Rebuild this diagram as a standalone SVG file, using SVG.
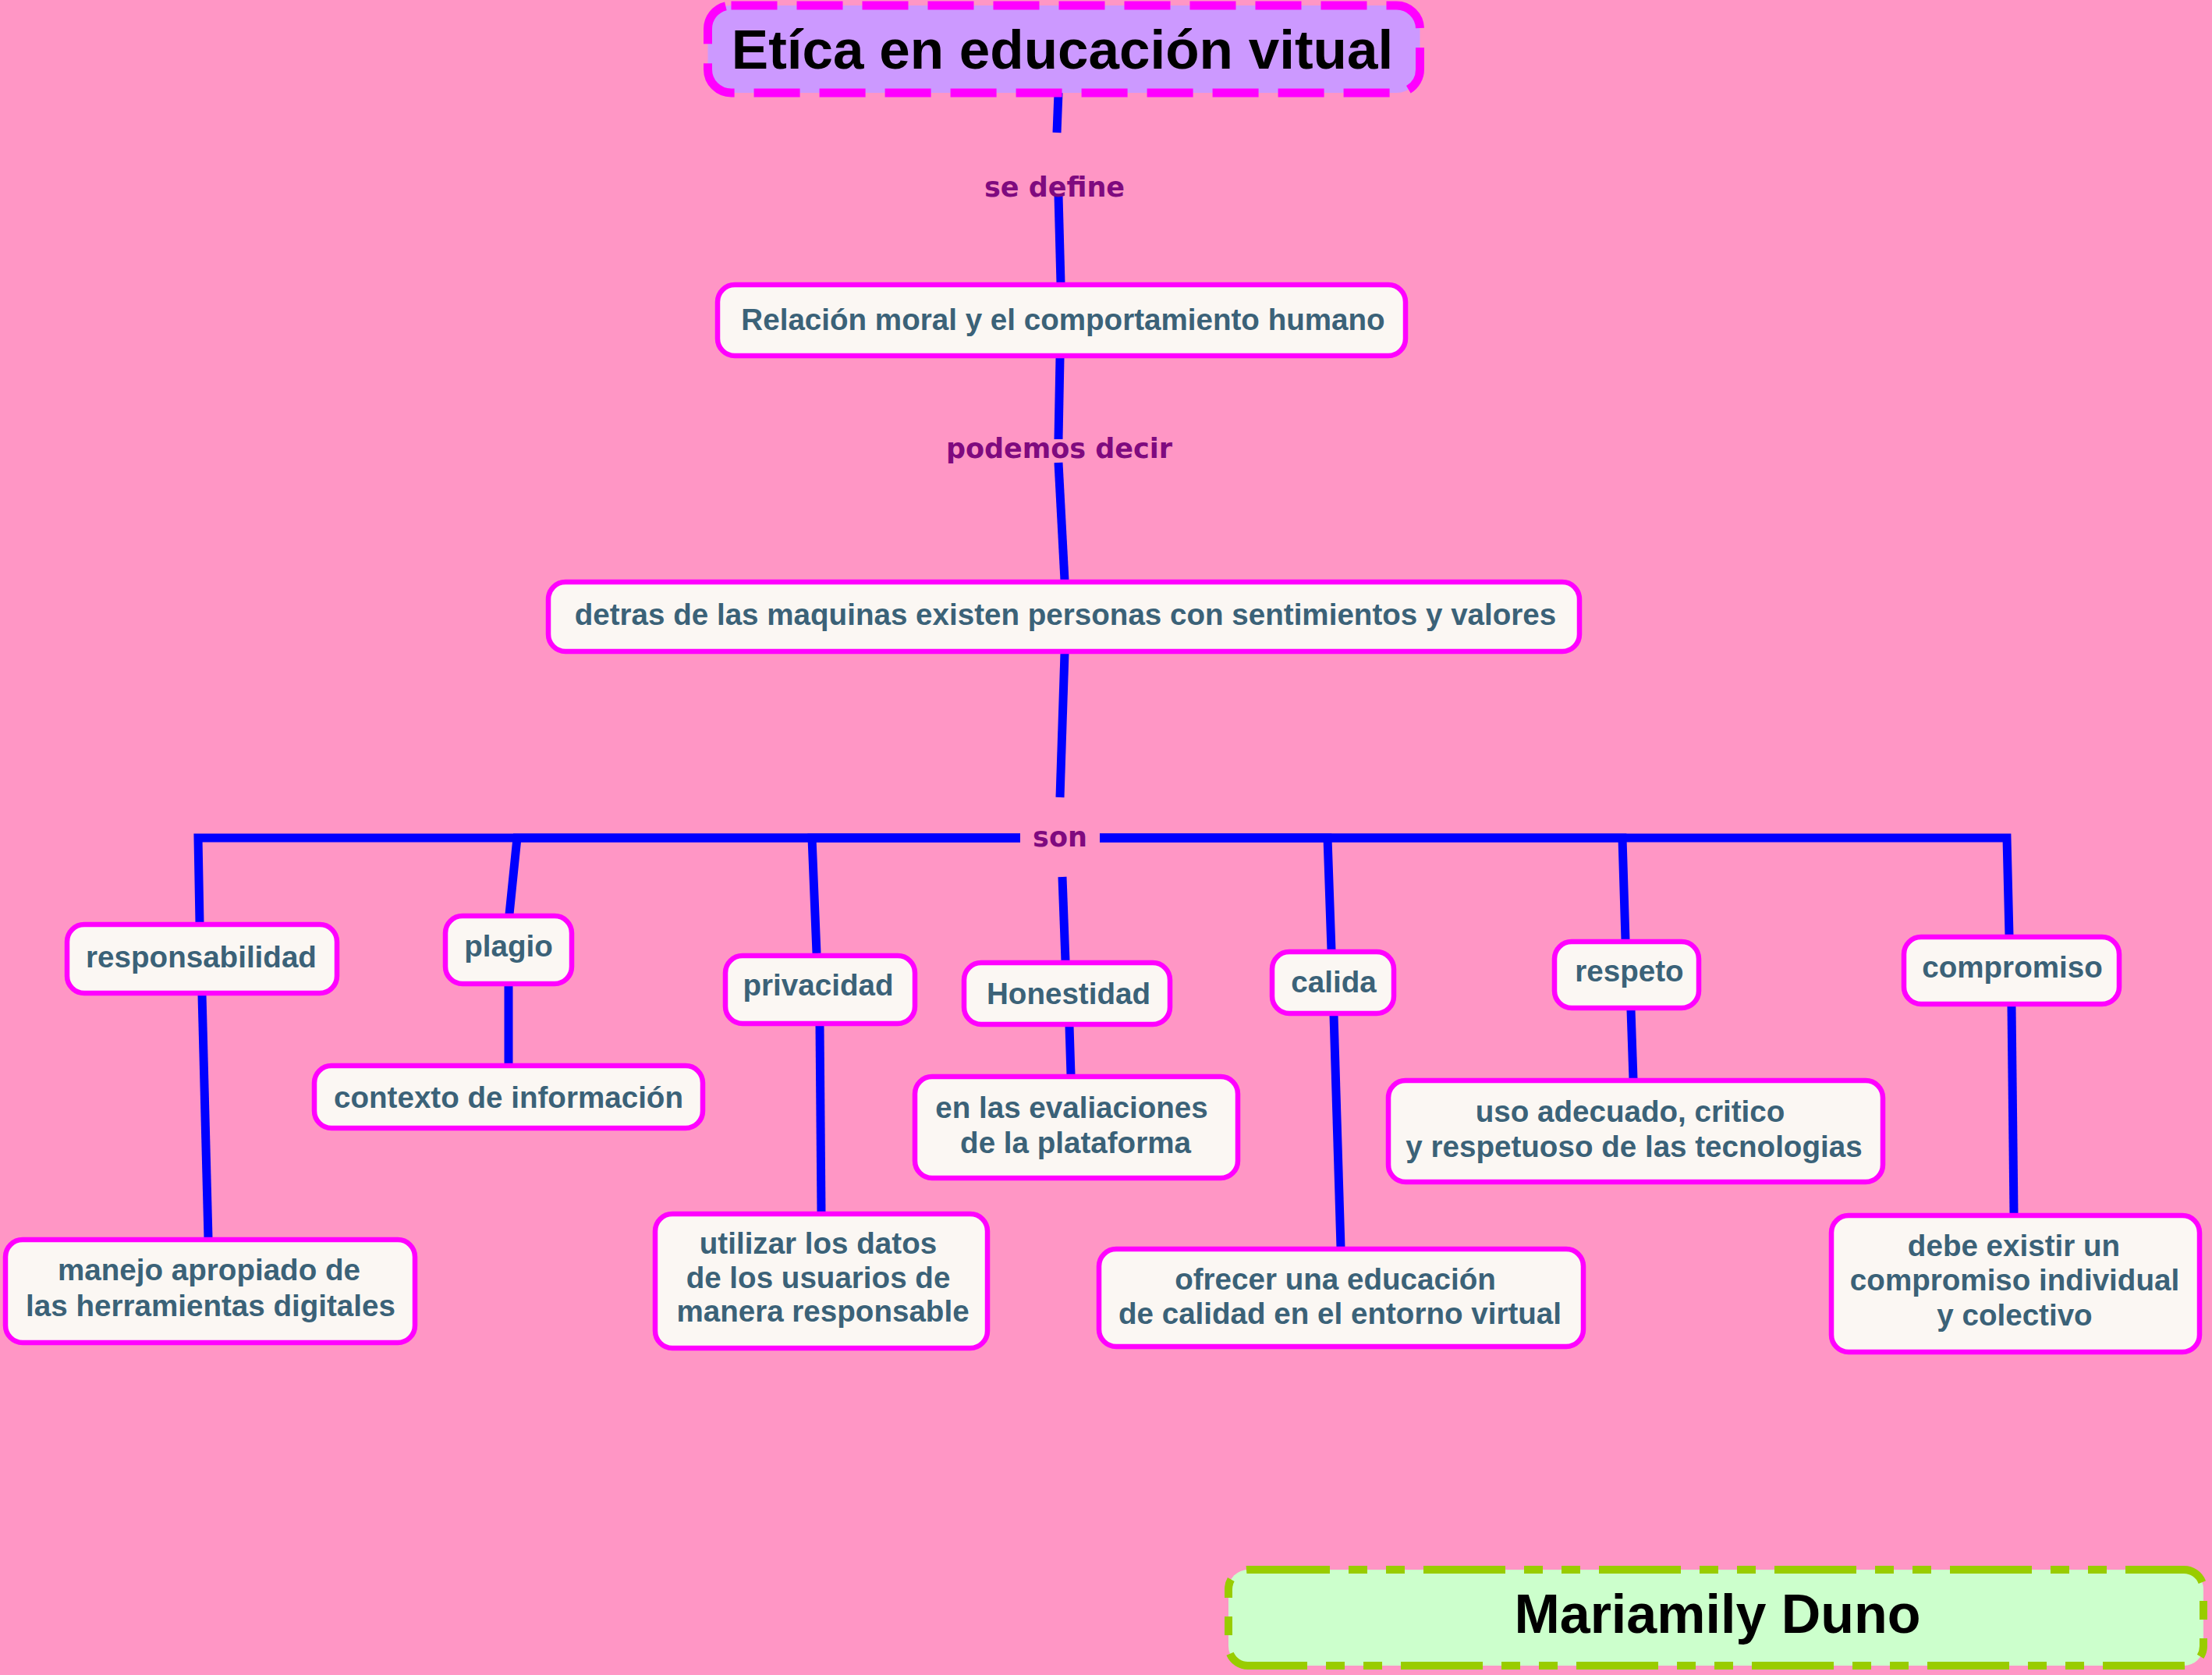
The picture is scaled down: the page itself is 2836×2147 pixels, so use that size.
<svg xmlns="http://www.w3.org/2000/svg" width="2836" height="2147" viewBox="0 0 2836 2147">
<style>
.bg{fill:#ff96c5}
.node rect{fill:#fbf7f3;stroke:#ff00ff;stroke-width:6.5}
.node text{font-family:"Liberation Sans",Arial,sans-serif;font-weight:bold;font-size:38.6px;fill:#3b6278;text-anchor:middle}
.conn{fill:none;stroke:#0000ff;stroke-width:11;stroke-linecap:butt;stroke-linejoin:miter}
.lbl{font-family:"DejaVu Sans",Verdana,sans-serif;font-weight:bold;font-size:35px;fill:#7f0a7f;text-anchor:middle}
</style>
<rect class="bg" x="0" y="0" width="2836" height="2147"/>
<g id="connectors">
<path class="conn" d="M1357,119 L1355,170"/>
<path class="conn" d="M1357,250 L1360,363"/>
<path class="conn" d="M1359,459 L1357,563"/>
<path class="conn" d="M1357,593 L1365,744"/>
<path class="conn" d="M1365,837 L1359,1022"/>
<path class="conn" d="M1308,1074 L254,1074 L256,1183"/>
<path class="conn" d="M1308,1074 L663,1074 L653,1172"/>
<path class="conn" d="M1308,1074 L1041,1074 L1047,1222"/>
<path class="conn" d="M1362,1124 L1366,1232"/>
<path class="conn" d="M1410,1074 L1702,1074 L1707,1218"/>
<path class="conn" d="M1410,1074 L2080,1074 L2084,1205"/>
<path class="conn" d="M1410,1074 L2573,1074 L2576,1199"/>
<path class="conn" d="M259,1275 L267,1587"/>
<path class="conn" d="M652,1263 L652,1364"/>
<path class="conn" d="M1051,1314 L1053,1554"/>
<path class="conn" d="M1371,1315 L1373,1378"/>
<path class="conn" d="M1710,1301 L1719,1599"/>
<path class="conn" d="M2091,1294 L2094,1383"/>
<path class="conn" d="M2579,1289 L2582,1556"/>
<text class="lbl" x="1352" y="252">se define</text>
<text class="lbl" x="1358" y="587">podemos decir</text>
<text class="lbl" x="1359" y="1085">son</text>
</g>
<g id="title">
<rect x="907.5" y="7" width="913" height="112" rx="30" fill="#cc99ff" stroke="#ff00ff" stroke-width="11" stroke-dasharray="59 25"/>
<text x="1362" y="88" font-family="'Liberation Sans',Arial,sans-serif" font-weight="bold" font-size="71" fill="#000" text-anchor="middle">Etíca en educación vitual</text>
</g>
<g id="n-relacion" class="node"><rect x="920" y="365" width="882" height="91" rx="22"/><text x="1363" y="423">Relación moral y el comportamiento humano</text></g>
<g id="n-detras" class="node"><rect x="703" y="746" width="1322" height="89" rx="22"/><text x="1366" y="801">detras de las maquinas existen personas con sentimientos y valores</text></g>
<g id="n-responsabilidad" class="node"><rect x="86" y="1185" width="346" height="88" rx="22"/><text x="258" y="1240">responsabilidad</text></g>
<g id="n-manejo" class="node"><rect x="7" y="1589" width="525" height="132" rx="22"/><text x="268" y="1641">manejo apropiado de</text><text x="270" y="1687">las herramientas digitales</text></g>
<g id="n-plagio" class="node"><rect x="571" y="1174" width="162" height="87" rx="22"/><text x="652" y="1226">plagio</text></g>
<g id="n-contexto" class="node"><rect x="403" y="1366" width="498" height="80" rx="22"/><text x="652" y="1420">contexto de información</text></g>
<g id="n-privacidad" class="node"><rect x="930" y="1225" width="243" height="87" rx="22"/><text x="1049" y="1276">privacidad</text></g>
<g id="n-utilizar" class="node"><rect x="840" y="1556" width="426" height="172" rx="22"/><text x="1049" y="1607">utilizar los datos</text><text x="1049" y="1651">de los usuarios de</text><text x="1055" y="1694">manera responsable</text></g>
<g id="n-honestidad" class="node"><rect x="1236" y="1234" width="264" height="79" rx="22"/><text x="1370" y="1287">Honestidad</text></g>
<g id="n-evaluaciones" class="node"><rect x="1173" y="1380" width="414" height="130" rx="22"/><text x="1374" y="1433">en las evaliaciones</text><text x="1379" y="1478">de la plataforma</text></g>
<g id="n-calida" class="node"><rect x="1631" y="1220" width="156" height="79" rx="22"/><text x="1710" y="1272">calida</text></g>
<g id="n-ofrecer" class="node"><rect x="1409" y="1601" width="621" height="125" rx="22"/><text x="1712" y="1653">ofrecer una educación</text><text x="1718" y="1697">de calidad en el entorno virtual</text></g>
<g id="n-respeto" class="node"><rect x="1993" y="1207" width="185" height="85" rx="22"/><text x="2089" y="1258">respeto</text></g>
<g id="n-uso" class="node"><rect x="1780" y="1385" width="634" height="130" rx="22"/><text x="2090" y="1438">uso adecuado, critico</text><text x="2095" y="1483">y respetuoso de las tecnologias</text></g>
<g id="n-compromiso" class="node"><rect x="2441" y="1201" width="276" height="86" rx="22"/><text x="2580" y="1253">compromiso</text></g>
<g id="n-debe" class="node"><rect x="2348" y="1558" width="472" height="175" rx="22"/><text x="2582" y="1610">debe existir un</text><text x="2583" y="1654">compromiso individual</text><text x="2583" y="1699">y colectivo</text></g>
<g id="author">
<rect x="1575" y="2012" width="1250" height="123" rx="25" fill="#ccffcc" stroke="#99cc00" stroke-width="10" stroke-dasharray="105 24 24 24 24 24"/>
<text x="2202" y="2093" font-family="'Liberation Sans',Arial,sans-serif" font-weight="bold" font-size="70" fill="#000" text-anchor="middle">Mariamily Duno</text>
</g>
</svg>
